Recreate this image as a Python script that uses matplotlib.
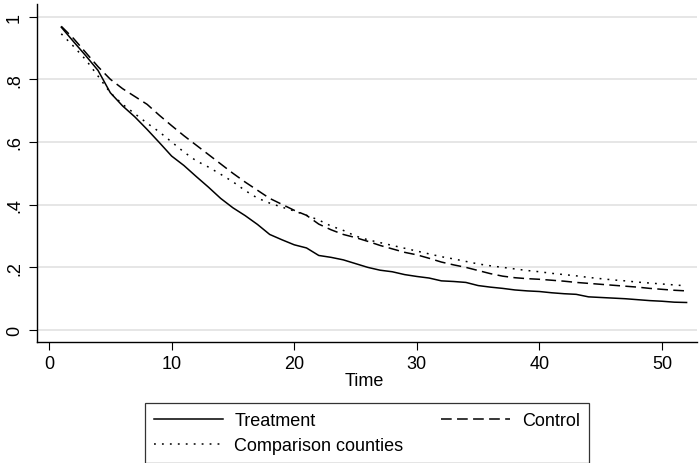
import matplotlib
matplotlib.use("Agg")
import matplotlib.pyplot as plt
import numpy as np

plt.rcParams['font.family'] = ['Liberation Sans', 'DejaVu Sans']

# weeks
time = np.arange(1, 53)

treatment = [0.966, 0.92, 0.875, 0.828, 0.757, 0.715, 0.68, 0.64, 0.598, 0.555,
             0.525, 0.49, 0.456, 0.42, 0.39, 0.365, 0.337, 0.305, 0.288, 0.272,
             0.262, 0.238, 0.232, 0.224, 0.212, 0.200, 0.191, 0.186, 0.177, 0.171,
             0.166, 0.157, 0.155, 0.152, 0.142, 0.137, 0.133, 0.128, 0.125, 0.123,
             0.119, 0.116, 0.114, 0.106, 0.104, 0.102, 0.100, 0.097, 0.094, 0.092,
             0.089, 0.088]

control = [0.969, 0.93, 0.885, 0.84, 0.8, 0.77, 0.745, 0.72, 0.685, 0.652,
           0.62, 0.59, 0.56, 0.53, 0.5, 0.472, 0.446, 0.42, 0.401, 0.382,
           0.366, 0.338, 0.32, 0.305, 0.295, 0.283, 0.27, 0.259, 0.248, 0.24,
           0.229, 0.217, 0.208, 0.2, 0.19, 0.18, 0.172, 0.167, 0.164, 0.162,
           0.159, 0.156, 0.152, 0.149, 0.146, 0.143, 0.14, 0.137, 0.133, 0.13,
           0.127, 0.125]

comparison = [0.945, 0.905, 0.862, 0.81, 0.757, 0.72, 0.69, 0.66, 0.632, 0.6,
              0.568, 0.54, 0.52, 0.497, 0.473, 0.445, 0.421, 0.405, 0.392, 0.38,
              0.366, 0.351, 0.332, 0.318, 0.3, 0.288, 0.279, 0.27, 0.261, 0.252,
              0.243, 0.234, 0.227, 0.219, 0.211, 0.205, 0.2, 0.195, 0.19, 0.186,
              0.181, 0.177, 0.173, 0.168, 0.164, 0.16, 0.157, 0.153, 0.15, 0.147,
              0.144, 0.141]

xticks = [0, 10, 20, 30, 40, 50]
yticks = [0, 0.2, 0.4, 0.6, 0.8, 1.0]
ylabels = ["0", ".2", ".4", ".6", ".8", "1"]

fig = plt.figure(figsize=(6.99, 4.64), dpi=100)
ax = fig.add_axes([37/699, 1-343/464, 1-37/699-2/699, (343-5)/464])

lw = 1.1
l1, = ax.plot(time, treatment, color='black', lw=lw, label='Treatment')
l2, = ax.plot(time, control, color='black', lw=lw, dashes=(7, 3.5), label='Control')
l3, = ax.plot(time, comparison, color='black', lw=lw, dashes=(1.2, 4),
              label='Comparison counties')

ax.set_xlim(-0.98, 52.85)
ax.set_ylim(-0.038, 1.04)
ax.set_xticks(xticks)
ax.set_yticks(yticks)
ax.set_yticklabels(ylabels, rotation=90, va='center')
ax.tick_params(axis='both', labelsize=13, length=6, width=0.8, color='black')
ax.tick_params(axis='y', pad=4)
ax.grid(axis='y', color='#e6e6e6', lw=1.4)
ax.set_axisbelow(True)
for s in ['top', 'right']:
    ax.spines[s].set_visible(False)
ax.spines['left'].set_linewidth(1)
ax.spines['bottom'].set_linewidth(1)

fig.text(0.5*(37+699)/699 - 0.005, 1-381.7/464, "Time", ha='center', va='center', fontsize=13)

leg = fig.legend([l1, l3, l2], ['Treatment', 'Comparison counties', 'Control'],
                 ncol=2, loc='upper left', bbox_to_anchor=(145/699, 1-404/464),
                 fontsize=13, frameon=True, fancybox=False, handlelength=3.8,
                 handletextpad=0.65, columnspacing=2.1, borderpad=0.5,
                 labelspacing=0.45, borderaxespad=0)
leg.get_frame().set_edgecolor('black')
leg.get_frame().set_linewidth(0.9)

fig.savefig("out.png", dpi=100)
